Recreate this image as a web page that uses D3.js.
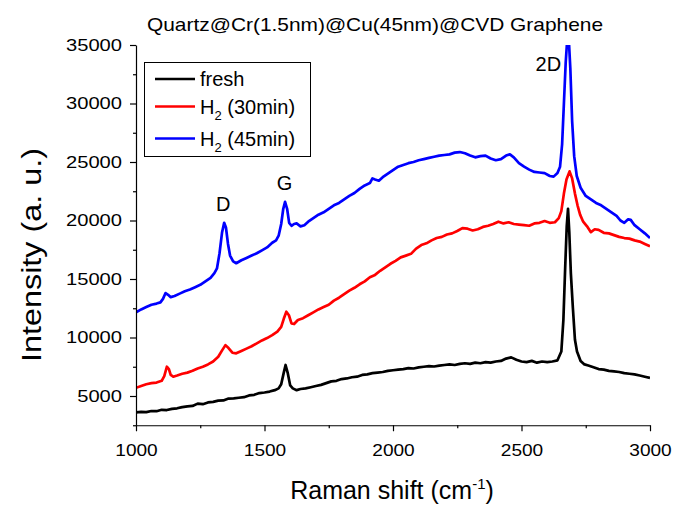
<!DOCTYPE html>
<html>
<head>
<meta charset="utf-8">
<script src="https://cdn.jsdelivr.net/npm/d3@7"></script>
<style>
  body { margin: 0; background: #fff; }
  svg text { font-family: "Liberation Sans", Arial, sans-serif; fill: #000; }
  .axis path, .axis line { stroke: #000; stroke-width: 1.2; }
</style>
</head>
<body>
<div id="chart"></div>
<script>
// Raman spectra, [shift (cm-1), intensity (a.u.)]
var fresh = [
  [1000,3600],[1020,3650],[1040,3620],[1060,3720],[1080,3700],[1100,3820],[1120,3800],[1140,3900],
  [1160,3950],[1180,4050],[1200,4120],[1220,4150],[1240,4350],[1260,4300],[1280,4450],[1300,4500],
  [1320,4600],[1340,4620],[1360,4780],[1380,4800],[1400,4850],[1420,4900],[1440,5050],[1460,5100],
  [1480,5250],[1500,5300],[1520,5380],[1540,5500],[1555,5650],[1565,6000],[1575,7000],[1582,7650],
  [1590,7000],[1600,5900],[1610,5650],[1625,5500],[1640,5600],[1660,5650],[1680,5750],[1700,5850],
  [1720,5950],[1740,6100],[1760,6250],[1780,6300],[1800,6450],[1820,6500],[1840,6600],[1860,6650],
  [1880,6800],[1900,6850],[1920,6950],[1940,7000],[1960,7050],[1980,7150],[2000,7200],[2020,7250],
  [2040,7300],[2060,7380],[2080,7350],[2100,7450],[2120,7500],[2140,7550],[2160,7520],[2180,7600],
  [2200,7650],[2220,7700],[2240,7650],[2260,7750],[2280,7800],[2300,7750],[2320,7850],[2340,7800],
  [2360,7900],[2380,7850],[2400,7950],[2420,8000],[2440,8200],[2460,8300],[2480,8100],[2500,7950],
  [2520,7900],[2540,8000],[2560,7850],[2580,7950],[2600,7900],[2620,7950],[2640,8050],[2655,8800],
  [2663,11500],[2670,16000],[2676,19500],[2681,21000],[2686,19000],[2692,15500],[2700,12500],[2708,9800],
  [2716,8800],[2730,8000],[2745,7700],[2760,7600],[2780,7450],[2800,7300],[2820,7250],[2840,7150],
  [2860,7100],[2880,7050],[2900,6950],[2920,6900],[2940,6850],[2960,6750],[2980,6650],[3000,6550]
];

var h2_30 = [
  [1000,5700],[1020,5850],[1040,6000],[1060,6100],[1080,6150],[1100,6300],[1110,6700],[1120,7500],
  [1128,7300],[1135,6800],[1145,6650],[1160,6750],[1180,6900],[1200,7000],[1220,7150],[1240,7350],
  [1260,7500],[1280,7700],[1300,7950],[1320,8350],[1335,8900],[1348,9350],[1360,9100],[1375,8700],
  [1390,8650],[1410,8850],[1430,9050],[1450,9250],[1470,9500],[1490,9750],[1510,9950],[1530,10200],
  [1550,10500],[1565,10900],[1575,11600],[1585,12200],[1595,11900],[1605,11200],[1615,11150],[1630,11500],
  [1650,11650],[1670,11900],[1690,12150],[1710,12400],[1730,12600],[1750,12800],[1770,13150],[1790,13400],
  [1810,13700],[1830,14000],[1850,14250],[1870,14550],[1890,14800],[1910,15150],[1930,15350],[1950,15700],
  [1970,16000],[1990,16300],[2010,16550],[2030,16850],[2050,17000],[2070,17150],[2090,17600],[2110,17900],
  [2130,18050],[2150,18300],[2170,18500],[2190,18600],[2210,18800],[2230,18900],[2250,19100],[2270,19350],
  [2290,19300],[2310,19150],[2330,19250],[2350,19450],[2370,19550],[2390,19700],[2410,19900],[2430,19750],
  [2450,19850],[2470,19700],[2490,19650],[2510,19600],[2530,19550],[2550,19750],[2570,19800],[2590,19950],
  [2610,19800],[2630,19850],[2645,20200],[2655,20800],[2665,22300],[2675,23500],[2687,24200],[2697,23600],
  [2708,22300],[2718,21300],[2728,20500],[2740,19900],[2755,19500],[2770,19000],[2785,19250],[2800,19200],
  [2820,18950],[2840,18900],[2860,18750],[2880,18600],[2900,18500],[2920,18450],[2940,18300],[2960,18200],
  [2980,18000],[3000,17800]
];

var h2_45 = [
  [1000,12150],[1020,12400],[1040,12600],[1060,12800],[1080,12900],[1095,13000],[1105,13300],[1115,13800],
  [1125,13650],[1135,13450],[1150,13550],[1170,13750],[1190,13950],[1210,14100],[1230,14300],[1250,14500],
  [1270,14800],[1290,15100],[1305,15500],[1315,15900],[1325,17200],[1335,19000],[1343,19800],[1350,19400],
  [1358,18000],[1366,17000],[1378,16500],[1390,16350],[1410,16600],[1430,16800],[1450,17000],[1470,17200],
  [1490,17450],[1510,17700],[1530,18100],[1545,18300],[1555,18700],[1565,19700],[1573,21000],[1580,21600],
  [1588,21000],[1596,19800],[1605,19550],[1615,19700],[1625,19750],[1640,19500],[1655,19600],[1670,19900],
  [1690,20200],[1710,20500],[1730,20700],[1750,21000],[1770,21300],[1790,21500],[1810,21800],[1830,22100],
  [1850,22350],[1870,22700],[1890,23000],[1910,23200],[1920,23600],[1930,23500],[1945,23400],[1960,23700],
  [1980,24000],[2000,24300],[2020,24600],[2040,24750],[2060,24900],[2080,25000],[2100,25150],[2120,25250],
  [2140,25350],[2160,25450],[2180,25550],[2200,25600],[2220,25650],[2240,25800],[2260,25850],[2280,25750],
  [2300,25550],[2320,25400],[2340,25500],[2360,25550],[2380,25300],[2400,25150],[2420,25250],[2440,25550],
  [2455,25650],[2470,25400],[2490,24900],[2510,24600],[2530,24350],[2550,24150],[2570,24100],[2590,24050],
  [2610,23800],[2625,23750],[2640,24050],[2650,24600],[2658,26500],[2665,30000],[2672,33500],[2678,35500],
  [2684,35500],[2690,33000],[2697,28500],[2705,25500],[2715,23800],[2730,22800],[2750,22100],[2770,21800],
  [2790,21500],[2810,21300],[2830,21000],[2850,20700],[2870,20400],[2885,20000],[2900,19800],[2915,20100],
  [2925,20050],[2940,19600],[2960,19250],[2980,18900],[3000,18500]
];

var seriesNames = ["fresh", "H2 (30min)", "H2 (45min)"];
var seriesColors = ["#000000", "#ff0000", "#0000ff"];
var xTicks = [1000, 1500, 2000, 2500, 3000];
var xMinorTicks = [1250, 1750, 2250, 2750];
var yTicks = [5000, 10000, 15000, 20000, 25000, 30000, 35000];
var yMinorTicks = [2500, 7500, 12500, 17500, 22500, 27500, 32500];
var peakLabels = [["D", 1343, 19800], ["G", 1582, 21600], ["2D", 2620, 35000]];

var W = 675, H = 511;
var plot = {left: 136, right: 650, top: 45, bottom: 425.25};

var svg = d3.select("#chart").append("svg")
    .attr("width", W)
    .attr("height", H);

var x = d3.scaleLinear().domain([1000, 3000]).range([plot.left, plot.right]);
var y = d3.scaleLinear().domain([2500, 35000]).range([plot.bottom, plot.top]);

//clip so the blue 2D peak is cut at the top of the frame
svg.append("clipPath").attr("id", "clip")
  .append("rect")
    .attr("x", plot.left).attr("y", plot.top)
    .attr("width", plot.right - plot.left)
    .attr("height", plot.bottom - plot.top);

var line = d3.line()
    .x(function(d) { return x(d[0]); })
    .y(function(d) { return y(d[1]); });

var curves = svg.append("g").attr("clip-path", "url(#clip)");
[fresh, h2_30, h2_45].forEach(function(s, i) {
  curves.append("path")
    .datum(s)
    .attr("d", line)
    .attr("fill", "none")
    .attr("stroke", seriesColors[i])
    .attr("stroke-width", 2.7)
    .attr("stroke-linejoin", "round");
});

//axes, major + minor ticks pointing out
var xAxis = svg.append("g").attr("class", "axis")
    .attr("transform", "translate(0," + plot.bottom + ")")
    .call(d3.axisBottom(x).tickValues(xTicks).tickSize(6).tickSizeOuter(0).tickFormat(d3.format("d")));
svg.append("g").attr("class", "axis")
    .attr("transform", "translate(0," + plot.bottom + ")")
    .call(d3.axisBottom(x).tickValues(xMinorTicks).tickSize(3).tickFormat(""))
    .select(".domain").remove();

var yAxis = svg.append("g").attr("class", "axis")
    .attr("transform", "translate(" + plot.left + ",0)")
    .call(d3.axisLeft(y).tickValues(yTicks).tickSize(6).tickSizeOuter(0).tickFormat(d3.format("d")));
svg.append("g").attr("class", "axis")
    .attr("transform", "translate(" + plot.left + ",0)")
    .call(d3.axisLeft(y).tickValues(yMinorTicks).tickSize(3).tickFormat(""))
    .select(".domain").remove();

xAxis.selectAll("text")
    .attr("y", 31).attr("dy", 0)
    .style("font-size", "16px")
    .attr("textLength", function(d) { return String(d).length * 10.6; })
    .attr("lengthAdjust", "spacingAndGlyphs");
yAxis.selectAll("text")
    .attr("x", -14)
    .style("font-size", "16px")
    .attr("textLength", function(d) { return String(d).length * 11.2; })
    .attr("lengthAdjust", "spacingAndGlyphs");

//titles
svg.append("text")
    .attr("x", 375).attr("y", 31)
    .attr("text-anchor", "middle")
    .style("font-size", "19px")
    .attr("textLength", 456).attr("lengthAdjust", "spacingAndGlyphs")
    .text("Quartz@Cr(1.5nm)@Cu(45nm)@CVD Graphene");

var xTitle = svg.append("text")
    .attr("x", 392).attr("y", 499)
    .attr("text-anchor", "middle")
    .style("font-size", "25px");
xTitle.append("tspan").text("Raman shift (cm");
xTitle.append("tspan").attr("dy", -10).style("font-size", "15px").text("-1");
xTitle.append("tspan").attr("dy", 10).text(")");

svg.append("text")
    .attr("transform", "translate(41,255) rotate(-90)")
    .attr("text-anchor", "middle")
    .style("font-size", "27px")
    .attr("textLength", 214).attr("lengthAdjust", "spacingAndGlyphs")
    .text("Intensity  (a. u.)");

//peak labels
svg.selectAll(".peak")
  .data(peakLabels)
  .enter().append("text")
    .attr("class", "peak")
    .attr("x", function(d) { return x(d[1]); })
    .attr("y", function(d) { return y(d[2]) - 12; })
    .attr("dx", function(d) { return d[0] == "2D" ? -4 : -1; })
    .attr("dy", function(d) { return d[0] == "2D" ? 38 : 0; })
    .attr("text-anchor", "middle")
    .style("font-size", "20px")
    .text(function(d) { return d[0]; });

//legend
var legend = svg.append("g");
legend.append("rect")
    .attr("x", 144.5).attr("y", 62.5)
    .attr("width", 166).attr("height", 94)
    .attr("fill", "#fff").attr("stroke", "#000").attr("stroke-width", 1);

var rowY = [79, 106.5, 138.5];
seriesNames.forEach(function(name, i) {
  legend.append("line")
    .attr("x1", 155).attr("x2", 195)
    .attr("y1", rowY[i]).attr("y2", rowY[i])
    .attr("stroke", seriesColors[i]).attr("stroke-width", 2.7);
  var t = legend.append("text")
    .attr("x", 200).attr("y", rowY[i] + 7)
    .style("font-size", "20px");
  if (name.indexOf("H2") == 0) {
    t.append("tspan").text("H");
    t.append("tspan").attr("dy", 6).style("font-size", "13px").text("2");
    t.append("tspan").attr("dy", -6).text(name.slice(2));
  } else {
    t.text(name);
  }
});
</script>
</body>
</html>
